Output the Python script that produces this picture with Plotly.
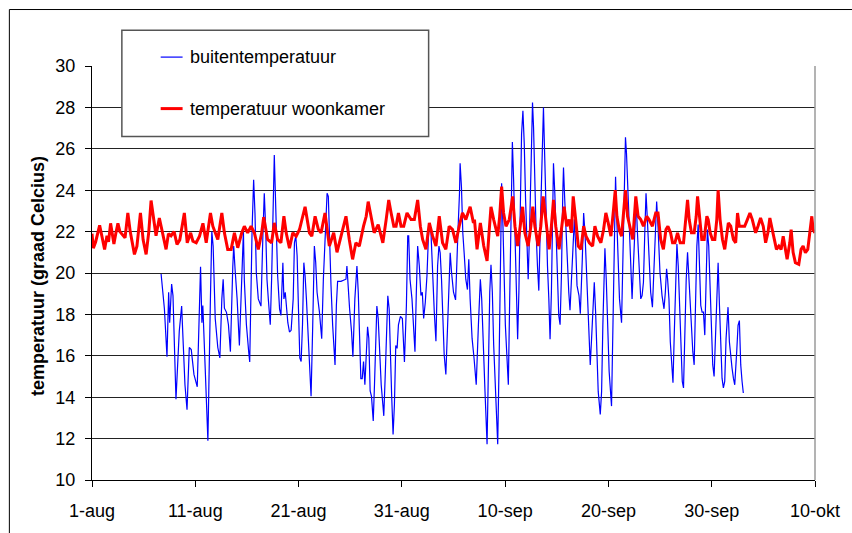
import pandas as pd
import plotly.graph_objects as go

# Time axis: days elapsed since 1 August (00:00)
START = pd.Timestamp("2006-08-01")

# Outdoor temperature (buitentemperatuur)
blue_days = [
    6.69, 6.85, 7.01, 7.26, 7.42, 7.52, 7.71, 7.84, 8.13, 8.45, 8.68, 8.84, 9.0,
    9.2, 9.42, 9.61, 9.87, 10.19, 10.41, 10.51, 10.64, 10.73, 10.96, 11.22, 11.47,
    11.6, 11.73, 11.93, 12.18, 12.38, 12.57, 12.7, 12.82, 13.02, 13.21, 13.4, 13.63,
    13.72, 13.85, 14.05, 14.27, 14.5, 14.66, 14.75, 14.95, 15.17, 15.27, 15.5, 15.65,
    15.78, 15.91, 16.1, 16.36, 16.55, 16.68, 16.81, 16.94, 17.07, 17.26, 17.39, 17.52,
    17.65, 17.77, 17.97, 18.16, 18.29,
    18.48, 18.58, 18.71, 18.83, 18.96, 19.12, 19.28, 19.48, 19.6, 19.73, 19.86, 19.99,
    20.12, 20.25, 20.38, 20.51, 20.63, 20.76, 20.96, 21.21, 21.37, 21.53, 21.66, 21.79,
    22.02, 22.24, 22.4, 22.6, 22.76, 22.88, 23.0, 23.14, 23.3, 23.53, 23.66, 23.78,
    24.1, 24.59, 24.68, 24.81, 24.94, 25.13, 25.26, 25.45, 25.65, 25.78, 25.91, 26.03,
    26.16, 26.29, 26.42, 26.55, 26.68, 26.8, 26.93, 27.06, 27.23, 27.35, 27.48, 27.58,
    27.71,
    27.8, 28.0, 28.16, 28.25, 28.38, 28.51, 28.64, 28.77, 28.89, 29.02, 29.15, 29.28,
    29.41, 29.54, 29.67, 29.86, 30.05, 30.25, 30.44, 30.57, 30.66, 30.79, 30.98, 31.11,
    31.27, 31.4, 31.53, 31.69, 31.85, 31.98, 32.11, 32.27, 32.43, 32.56, 32.66, 32.82,
    32.98, 33.14, 33.3, 33.46, 33.59, 33.71, 33.84, 33.97, 34.1, 34.26, 34.42, 34.55,
    34.68, 34.81, 35.0, 35.2, 35.32, 35.45, 35.58, 35.64, 35.77, 35.9, 36.03, 36.19,
    36.35, 36.48, 36.61, 36.8, 36.99, 37.2,
    37.41, 37.6, 37.73, 37.86, 38.05, 38.25, 38.38, 38.51, 38.63, 38.76, 38.89, 39.08,
    39.28, 39.41, 39.53, 39.66, 39.79, 39.92, 40.02, 40.18, 40.31, 40.44, 40.56, 40.7,
    40.82, 40.95, 41.08, 41.21, 41.33, 41.46, 41.59, 41.72, 41.85, 41.98, 42.11, 42.23,
    42.36, 42.49, 42.65, 42.75, 42.88, 43.0, 43.13, 43.26, 43.39, 43.52, 43.65, 43.71,
    43.84, 43.97, 44.1, 44.23, 44.35, 44.48, 44.61, 44.68, 44.81, 44.94, 45.07, 45.19,
    45.32, 45.45, 45.58, 45.65, 45.77, 45.9, 46.03, 46.16, 46.28,
    46.54, 46.7, 46.83, 46.96, 47.15, 47.28, 47.47, 47.6, 47.73, 47.86, 47.99, 48.15,
    48.24, 48.37, 48.5, 48.63, 48.76, 48.89, 49.01, 49.21, 49.34, 49.46, 49.66, 49.79,
    49.91, 50.07, 50.3, 50.43, 50.56, 50.69, 50.81, 50.94, 51.07, 51.27, 51.4, 51.52,
    51.65, 51.75, 51.91, 52.04, 52.17, 52.29, 52.42, 52.55, 52.68, 52.81, 52.97, 53.13,
    53.26, 53.39, 53.52, 53.64, 53.77, 53.97, 54.09, 54.26, 54.42, 54.55, 54.67, 54.8,
    54.99, 55.19, 55.38, 55.51, 55.63,
    55.73, 55.86, 55.99, 56.12, 56.25, 56.38, 56.5, 56.63, 56.76, 56.89, 57.02, 57.15,
    57.27, 57.4, 57.53, 57.66, 57.79, 57.92, 58.04, 58.17, 58.3, 58.43, 58.56, 58.69,
    58.82, 58.94, 59.07, 59.2, 59.33, 59.46, 59.58, 59.71, 59.84, 59.97, 60.1, 60.23,
    60.36, 60.49, 60.62, 60.75, 60.87, 61.0, 61.13, 61.26, 61.39, 61.58, 61.71, 61.84,
    61.97, 62.1, 62.23, 62.42, 62.55, 62.68, 62.81, 62.94, 63.06,
]
blue_temp = [
    19.95, 19.07, 18.27, 15.96, 19.07, 17.6, 19.47, 18.91, 13.9, 17.2, 18.4, 16.5, 14.6,
    13.4, 16.4, 16.3, 15.1, 14.5, 19.0, 20.3, 17.6, 18.43, 15.4, 11.9, 18.9,
    22.0, 21.3, 17.8, 16.4, 15.9, 18.75, 19.7, 18.3, 18.1, 17.5, 16.2, 20.3,
    21.3, 20.19, 18.75, 16.5, 19.7, 22.0, 19.63, 17.5, 16.2, 15.7, 22.1, 24.5,
    22.9, 20.0, 18.75, 18.4, 21.9, 23.85, 22.26, 19.7, 18.75, 17.5, 19.7, 23.85,
    25.7, 23.53, 19.9, 18.27, 17.95,
    20.5, 18.75, 19.07, 18.27, 17.6, 17.15, 17.23, 18.75, 21.46, 21.8, 20.82, 18.27,
    15.9, 15.72, 17.5, 20.5, 19.87, 18.75, 16.52, 14.05, 17.47, 21.3, 20.5, 19.07,
    18.11, 16.83, 19.7, 21.9, 23.85, 23.7, 20.98, 19.4, 17.47, 15.56, 18.43, 19.6,
    19.6, 19.7, 20.34, 19.07, 18.27, 17.15, 15.96, 18.75, 20.34, 19.07, 16.68, 14.9,
    14.9, 15.72, 14.6, 16.52, 17.4, 16.84, 14.3, 14.04, 12.85, 14.6, 17.5, 18.4,
    17.8,
    16.52, 14.6, 13.65, 13.1, 14.92, 17.47, 18.9, 18.27, 15.88, 13.96, 12.2, 13.65,
    16.5, 16.36, 17.5, 17.9, 17.8, 15.7, 18.43, 21.8, 21.8, 19.7, 18.75, 17.47,
    16.2, 19.07, 21.3, 20.34, 18.91, 19.07, 17.8, 18.59, 19.87, 21.6, 22.4, 21.94,
    19.7, 18.11, 16.7, 20.34, 21.3, 20.98, 19.7, 17.8, 16.04, 15.1, 17.47, 18.75,
    20.98, 20.03, 19.07, 18.7, 20.03, 22.26, 23.85, 25.3, 24.17, 21.94, 20.98, 19.7,
    19.2, 20.66, 18.75, 16.84, 15.88, 14.6,
    17.47, 19.7, 18.75, 16.52, 14.28, 11.73, 15.56, 19.07, 20.4, 19.07, 16.52, 13.96,
    11.73, 15.56, 20.66, 24.33, 22.26, 19.07, 17.5, 15.88, 14.6, 18.75, 23.06, 26.33,
    24.49, 21.94, 19.7, 16.8, 19.07, 23.06, 26.72, 27.84, 26.25, 23.53, 21.0, 19.7,
    21.94, 25.45, 28.24, 27.04, 23.85, 21.94, 20.34, 19.15, 21.94, 24.97, 26.56, 28.0,
    25.45, 22.58, 20.34, 18.75, 16.8, 19.07, 22.58, 25.3, 23.85, 21.46, 19.7, 17.95,
    17.5, 19.87, 23.85, 25.1, 23.53, 21.94, 20.18, 19.07, 18.2,
    21.46, 22.6, 21.3, 19.39, 18.91, 18.03, 20.66, 22.9, 21.94, 20.34, 18.43, 16.04,
    15.56, 16.84, 18.43, 19.55, 18.11, 15.88, 14.28, 13.17, 14.28, 17.47, 21.2, 19.7,
    17.47, 15.24, 13.57, 17.47, 21.3, 24.65, 22.58, 20.34, 18.75, 17.6, 20.34, 23.85,
    26.56, 25.77, 23.53, 21.62, 20.34, 18.75, 20.34, 22.26, 23.53, 21.94, 20.34, 18.75,
    18.91, 19.55, 21.94, 23.85, 22.58, 20.34, 19.07, 18.35, 20.34, 22.26, 23.45, 22.26,
    20.03, 18.91, 18.27, 19.07, 20.2,
    19.7, 18.75, 16.68, 15.88, 14.7, 17.15, 19.7, 21.4, 20.34, 18.43, 16.52, 14.76,
    14.45, 17.47, 19.7, 21.0, 19.7, 18.43, 17.15, 16.2, 15.56, 18.43, 21.3, 22.34,
    20.66, 18.43, 18.11, 18.11, 17.0, 19.7, 22.1, 21.3, 19.07, 17.15, 15.56, 15.0,
    17.15, 19.55, 20.5, 18.43, 16.52, 14.92, 14.45, 14.76, 16.84, 18.35, 16.68, 15.88,
    15.4, 14.92, 14.6, 16.2, 17.47, 17.7, 15.56, 14.76, 14.2,
]

# Living-room temperature (temperatuur woonkamer)
red_days = [
    0.0, 0.13, 0.35, 0.55, 0.74, 0.95, 1.22, 1.45, 1.6, 1.8, 2.0, 2.12, 2.3, 2.51,
    2.7, 2.99, 3.2, 3.47, 3.7, 4.11, 4.35, 4.69, 4.95, 5.24, 5.5, 5.72, 6.2, 6.52,
    6.85, 7.17, 7.4, 7.65, 7.95, 8.23, 8.5, 8.94,
    9.22, 9.55, 9.77, 10.09, 10.41, 10.74, 11.06, 11.47, 11.7, 11.92, 12.18, 12.57,
    12.82, 13.14, 13.47, 13.79, 14.11, 14.5, 14.75, 15.07, 15.4, 15.72, 16.1, 16.43,
    16.62, 17.0, 17.39, 17.65, 17.97, 18.29,
    18.58, 18.8, 19.12, 19.44, 19.77, 20.09, 20.63, 21.05, 21.28, 21.6, 21.92, 22.18,
    22.56, 22.98, 23.4, 23.72, 24.1, 24.59, 24.91, 25.23, 25.55, 25.88, 26.29, 26.55,
    26.74, 27.0, 27.32, 27.71,
    27.93, 28.16, 28.48, 28.73, 28.96, 29.22, 29.44, 29.67, 29.92, 30.18, 30.5, 30.89,
    31.21, 31.53, 31.79, 32.01, 32.33, 32.66, 32.98, 33.3, 33.62, 33.94, 34.26, 34.58,
    34.91, 35.23, 35.55, 35.87, 36.19, 36.61, 36.93,
    37.03, 37.28, 37.6, 37.93, 38.25, 38.44, 38.63, 38.89, 39.28, 39.47, 39.66, 39.85,
    40.08, 40.4, 40.73, 40.95, 41.21, 41.46, 41.69, 41.91, 42.23, 42.49, 42.68, 42.88,
    43.2, 43.45, 43.68, 43.94, 44.26, 44.48, 44.68, 44.9, 45.22, 45.45, 45.71, 45.96,
    46.19, 46.41, 46.59,
    46.83, 47.08, 47.34, 47.6, 47.83, 48.15, 48.47, 48.69, 48.95, 49.27, 49.53, 49.75,
    49.98, 50.24, 50.49, 50.66, 50.82, 51.04, 51.27, 51.46, 51.65, 51.85, 52.11, 52.36,
    52.65, 52.87, 53.13, 53.39, 53.71, 53.93, 54.26, 54.58, 54.8, 55.06, 55.32, 55.57,
    55.76, 56.02,
    56.21, 56.44, 56.69, 56.95, 57.27, 57.5, 57.66, 57.82, 58.04, 58.3, 58.5, 58.63,
    58.82, 59.04, 59.27, 59.53, 59.66, 59.85, 60.07, 60.3, 60.49, 60.62, 60.81, 61.04,
    61.26, 61.45, 61.61, 61.84, 62.1, 62.32, 62.5,
    62.67, 62.96, 63.19, 63.45, 63.7, 63.93, 64.25, 64.48, 64.73, 64.99, 65.22, 65.44,
    65.63, 65.86, 66.08, 66.27, 66.5, 66.72, 66.92, 67.14, 67.3, 67.56, 67.69, 67.88,
    68.1, 68.43, 68.65, 68.85, 69.07, 69.3, 69.49, 69.69, 69.82, 69.98,
]
red_temp = [
    21.9, 21.2, 21.5, 22.0, 22.3, 21.8, 21.14, 21.8, 21.5, 22.4, 21.7, 21.4, 21.9, 22.4,
    22.0, 21.8, 21.7, 22.9, 22.0, 20.9, 21.3, 22.9, 21.6, 20.9, 22.0, 23.5, 21.8, 22.66,
    21.8, 21.14, 21.9, 21.8, 22.0, 21.38, 21.6, 22.9,
    21.46, 21.94, 21.54, 21.46, 21.78, 22.4, 21.46, 22.9, 22.26, 21.94, 21.62, 22.9,
    21.94, 21.14, 21.14, 21.94, 21.22, 21.94, 22.26, 21.94, 22.26, 21.94, 21.14, 21.94,
    22.7, 21.62, 21.46, 22.42, 21.62, 21.46,
    22.74, 21.94, 21.2, 21.94, 21.78, 22.1, 23.2, 21.94, 21.78, 22.74, 22.1, 21.94,
    22.9, 21.3, 21.94, 21.0, 21.78, 22.74, 21.62, 20.66, 21.46, 21.3, 22.26, 22.74,
    23.45, 22.74, 21.94, 22.34,
    21.94, 21.46, 22.58, 23.53, 22.9, 22.26, 22.26, 22.9, 22.26, 22.26, 22.9, 22.58,
    22.58, 23.53, 22.26, 21.62, 21.14, 22.42, 21.78, 21.3, 22.74, 21.46, 21.14, 22.26,
    22.1, 21.46, 22.26, 22.9, 22.58, 23.2, 22.42,
    22.58, 21.14, 22.42, 21.3, 20.58, 21.94, 23.2, 22.58, 21.78, 22.74, 24.17, 22.9,
    22.26, 22.58, 23.7, 22.26, 21.3, 22.26, 23.2, 21.94, 21.3, 22.26, 23.2, 22.26,
    21.3, 22.26, 23.7, 22.58, 21.14, 22.26, 23.53, 22.26, 21.14, 22.1, 23.2, 22.26,
    22.58, 21.94, 23.7,
    22.58, 21.3, 21.14, 22.26, 21.78, 21.46, 21.3, 22.26, 21.78, 21.46, 22.1, 22.9,
    22.42, 21.78, 23.05, 24.0, 22.74, 22.1, 21.78, 23.05, 24.0, 22.74, 22.1, 21.62,
    23.7, 22.74, 22.58, 22.26, 22.74, 22.58, 22.26, 22.9, 22.9, 21.62, 21.14, 22.1,
    22.26, 21.94,
    21.46, 21.46, 21.94, 21.46, 21.46, 22.58, 23.53, 22.58, 21.94, 21.94, 22.74, 23.7,
    22.58, 21.62, 21.62, 22.74, 22.58, 21.94, 21.62, 21.62, 22.58, 24.0, 22.58, 21.62,
    21.14, 21.94, 22.42, 22.26, 21.62, 21.46, 22.9,
    22.26, 22.26, 22.26, 22.58, 22.9, 22.58, 21.94, 22.26, 22.66, 22.26, 21.46, 21.94,
    22.66, 22.1, 21.62, 21.14, 21.3, 21.14, 21.78, 21.0, 20.66, 21.46, 22.1, 21.0,
    20.5, 20.42, 21.14, 21.3, 20.98, 21.14, 21.94, 22.74, 22.1, 21.94,
]

tick_days = [0, 10, 20, 30, 40, 50, 60, 70]
tick_labels = ["1-aug", "11-aug", "21-aug", "31-aug", "10-sep", "20-sep", "30-sep", "10-okt"]

series_names = ["buitentemperatuur", "temperatuur woonkamer"]
series_colors = ["#0000ff", "#ff0000"]
series_widths = [1.2, 3]


def to_time(days):
    return START + pd.to_timedelta(pd.Series(days, dtype=float), unit="D")


FONT = "Liberation Sans, Arial, sans-serif"

fig = go.Figure()
fig.add_trace(go.Scatter(
    x=to_time(blue_days), y=blue_temp, mode="lines", name=series_names[0],
    line=dict(color=series_colors[0], width=series_widths[0]), showlegend=False,
))
fig.add_trace(go.Scatter(
    x=to_time(red_days), y=red_temp, mode="lines", name=series_names[1],
    line=dict(color=series_colors[1], width=series_widths[1]), showlegend=False,
))

fig.update_layout(
    width=852, height=533,
    margin=dict(l=92, r=34, t=66, b=49),
    paper_bgcolor="white", plot_bgcolor="white",
    font=dict(family=FONT, size=18, color="black"),
    showlegend=False,
)

fig.update_xaxes(
    type="date",
    range=[to_time([0])[0], to_time([70])[0]],
    tickvals=list(to_time(tick_days)), ticktext=tick_labels,
    showgrid=False, zeroline=False,
    showline=True, linecolor="black", linewidth=1,
    ticks="outside", ticklen=6, tickcolor="black", tickwidth=1,
    ticklabelstandoff=8,
    tickfont=dict(family=FONT, size=18, color="black"),
)
fig.update_yaxes(
    range=[10, 30], dtick=2, tick0=10,
    showgrid=True, gridcolor="#222222", gridwidth=1, zeroline=False,
    showline=True, linecolor="black", linewidth=1,
    ticks="outside", ticklen=6, tickcolor="black", tickwidth=1,
    ticklabelstandoff=6,
    tickfont=dict(family=FONT, size=18, color="black"),
)

shapes = [
    # outer chart frame
    dict(type="rect", xref="paper", yref="paper", x0=-0.1143, x1=1.3, y0=-0.3, y1=1.1364,
         line=dict(color="black", width=1), fillcolor="rgba(0,0,0,0)", layer="below"),
    # right edge of the plot area
    dict(type="line", xref="paper", yref="paper", x0=1, x1=1, y0=0, y1=1,
         line=dict(color="#9a9a9a", width=1.5)),
    # legend box
    dict(type="rect", xref="paper", yref="paper", x0=0.0413, x1=0.4656, y0=0.830, y1=1.0861,
         line=dict(color="#555555", width=1.5), fillcolor="white", layer="above"),
]
legend_rows = [1.0215, 0.8971]
annotations = []
for name, color, width, yrow in zip(series_names, series_colors, series_widths, legend_rows):
    shapes.append(dict(type="line", xref="paper", yref="paper", x0=0.095, x1=0.1253,
                       y0=yrow, y1=yrow, line=dict(color=color, width=width), layer="above"))
    annotations.append(dict(xref="paper", yref="paper", x=0.1322, y=yrow, text=name,
                            showarrow=False, xanchor="left", yanchor="middle",
                            font=dict(family=FONT, size=18, color="black")))

annotations.append(dict(
    xref="paper", yref="paper", x=-0.0744, y=0.493, text="<b>temperatuur (graad Celcius)</b>",
    textangle=-90, showarrow=False, xanchor="center", yanchor="middle",
    font=dict(family=FONT, size=18, color="black"),
))

fig.update_layout(shapes=shapes, annotations=annotations)

fig.write_html("out.html")
